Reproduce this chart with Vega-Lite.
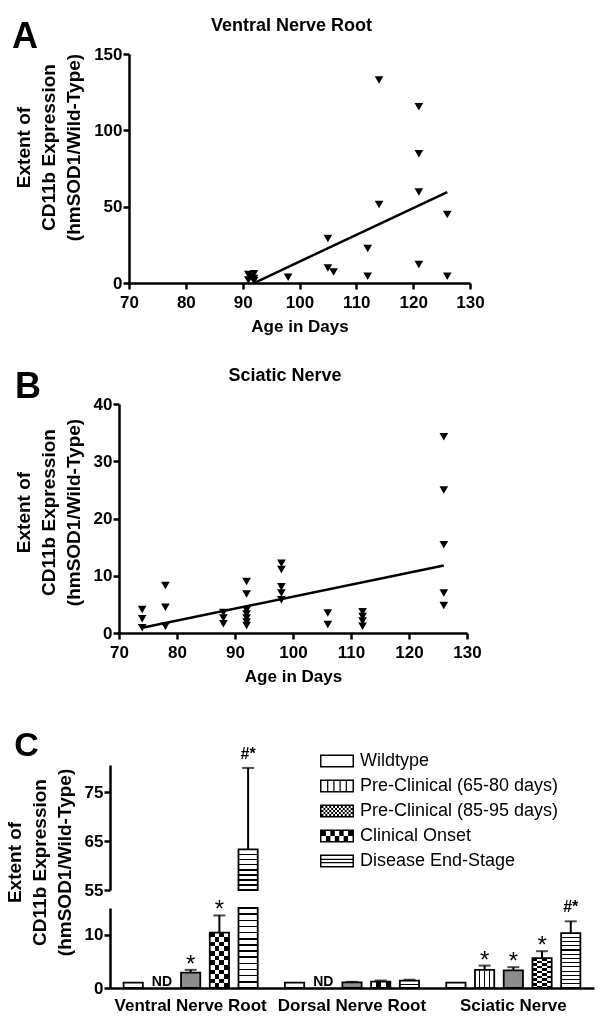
{
  "$schema": "https://vega.github.io/schema/vega-lite/v6.json",
  "background": "white",
  "padding": {"left": 0, "top": 17, "right": 2, "bottom": 2},
  "config": {
    "font": "Liberation Sans",
    "view": {"stroke": null},
    "axis": {"domainColor": "black", "domainWidth": 2.5, "tickColor": "black", "tickWidth": 2.5, "tickSize": 6, "labelFont": "Liberation Sans", "labelFontSize": 17, "labelFontWeight": "bold", "labelColor": "black", "titleFont": "Liberation Sans", "titleFontWeight": "bold", "titleColor": "black", "grid": false, "labelFlush": false},
    "axisX": {"titleFontSize": 17},
    "axisY": {"titleFontSize": 19, "titleLineHeight": 25},
    "title": {"font": "Liberation Sans", "fontWeight": "bold", "color": "black"}
  },
  "datasets": {
    "vnr": [
      {"age": 91, "value": 5.5}, {"age": 91, "value": 2.0}, {"age": 91.5, "value": 4.0}, {"age": 92, "value": 6.0}, {"age": 92, "value": 3.0}, {"age": 92, "value": 1.5},
      {"age": 98, "value": 3.7}, {"age": 105, "value": 29.2}, {"age": 105, "value": 9.9}, {"age": 106, "value": 7.2},
      {"age": 112, "value": 22.6}, {"age": 112, "value": 4.4}, {"age": 114, "value": 132.9}, {"age": 114, "value": 51.5},
      {"age": 121, "value": 115.4}, {"age": 121, "value": 84.7}, {"age": 121, "value": 59.6}, {"age": 121, "value": 12.1},
      {"age": 126, "value": 44.9}, {"age": 126, "value": 4.4}
    ],
    "vnr_fit": [{"age": 92, "value": 0}, {"age": 126, "value": 59.6}],
    "sn": [
      {"age": 74, "value": 4.1}, {"age": 74, "value": 2.5}, {"age": 74, "value": 0.9},
      {"age": 78, "value": 8.3}, {"age": 78, "value": 4.5}, {"age": 78, "value": 1.2},
      {"age": 88, "value": 3.6}, {"age": 88, "value": 2.6}, {"age": 88, "value": 1.6},
      {"age": 92, "value": 9.0}, {"age": 92, "value": 6.8}, {"age": 92, "value": 4.0}, {"age": 92, "value": 3.3}, {"age": 92, "value": 2.6}, {"age": 92, "value": 1.9}, {"age": 92, "value": 1.3},
      {"age": 98, "value": 12.2}, {"age": 98, "value": 11.1}, {"age": 98, "value": 8.1}, {"age": 98, "value": 7.0}, {"age": 98, "value": 5.8},
      {"age": 106, "value": 3.5}, {"age": 106, "value": 1.5},
      {"age": 112, "value": 3.7}, {"age": 112, "value": 2.9}, {"age": 112, "value": 2.1}, {"age": 112, "value": 1.2},
      {"age": 126, "value": 34.3}, {"age": 126, "value": 25.0}, {"age": 126, "value": 15.4}, {"age": 126, "value": 7.0}, {"age": 126, "value": 4.8}
    ],
    "sn_fit": [{"age": 74, "value": 0.9}, {"age": 126, "value": 11.8}],
    "bars": [
      {"region": "Ventral Nerve Root", "stage": "Wildtype", "value": 1.0, "upper": null, "sig": ""},
      {"region": "Ventral Nerve Root", "stage": "Pre-Clinical (65-80 days)", "value": null, "upper": null, "sig": "ND"},
      {"region": "Ventral Nerve Root", "stage": "Pre-Clinical (85-95 days)", "value": 2.9, "upper": 3.4, "sig": "*"},
      {"region": "Ventral Nerve Root", "stage": "Clinical Onset", "value": 10.4, "upper": 13.6, "sig": "*"},
      {"region": "Ventral Nerve Root", "stage": "Disease End-Stage", "value": 63.3, "upper": 80.0, "sig": "#*"},
      {"region": "Dorsal Nerve Root", "stage": "Wildtype", "value": 1.0, "upper": null, "sig": ""},
      {"region": "Dorsal Nerve Root", "stage": "Pre-Clinical (65-80 days)", "value": null, "upper": null, "sig": "ND"},
      {"region": "Dorsal Nerve Root", "stage": "Pre-Clinical (85-95 days)", "value": 1.05, "upper": 1.15, "sig": ""},
      {"region": "Dorsal Nerve Root", "stage": "Clinical Onset", "value": 1.2, "upper": 1.4, "sig": ""},
      {"region": "Dorsal Nerve Root", "stage": "Disease End-Stage", "value": 1.4, "upper": 1.55, "sig": ""},
      {"region": "Sciatic Nerve", "stage": "Wildtype", "value": 1.0, "upper": null, "sig": ""},
      {"region": "Sciatic Nerve", "stage": "Pre-Clinical (65-80 days)", "value": 3.4, "upper": 4.2, "sig": "*"},
      {"region": "Sciatic Nerve", "stage": "Pre-Clinical (85-95 days)", "value": 3.3, "upper": 3.9, "sig": "*"},
      {"region": "Sciatic Nerve", "stage": "Clinical Onset", "value": 5.6, "upper": 6.9, "sig": "*"},
      {"region": "Sciatic Nerve", "stage": "Disease End-Stage", "value": 10.3, "upper": 12.5, "sig": "#*"}
    ]
  },
  "vconcat": [
    {
      "spacing": 33,
      "vconcat": [
        {
          "title": {"text": "A", "anchor": "start", "frame": "bounds", "fontSize": 36, "offset": -67, "baseline": "alphabetic", "dx": 10},
          "spacing": 0,
          "hconcat": [
            {"width": 12, "height": 10, "data": {"values": [{"a": 1}]}, "mark": {"type": "point", "opacity": 0}, "encoding": {}},
            {
              "width": 341, "height": 229,
              "title": {"text": "Ventral Nerve Root", "fontSize": 18, "anchor": "middle", "frame": "group", "dx": -8, "offset": -4, "baseline": "alphabetic"},
              "layer": [
                {
                  "data": {"name": "vnr"},
                  "mark": {"type": "point", "shape": "triangle-down", "filled": true, "color": "black", "size": 75, "opacity": 1},
                  "encoding": {
                    "x": {"field": "age", "type": "quantitative", "scale": {"domain": [70, 130], "nice": false, "zero": false}, "axis": {"values": [70, 80, 90, 100, 110, 120, 130], "title": "Age in Days", "labelPadding": 5, "titlePadding": 8}},
                    "y": {"field": "value", "type": "quantitative", "scale": {"domain": [0, 150], "nice": false}, "axis": {"values": [0, 50, 100, 150], "title": ["Extent of", "CD11b Expression", "(hmSOD1/Wild-Type)"], "labelPadding": 1, "titlePadding": 10, "titleY": 93}}
                  }
                },
                {
                  "data": {"name": "vnr_fit"},
                  "mark": {"type": "line", "color": "black", "strokeWidth": 2.5},
                  "encoding": {"x": {"field": "age", "type": "quantitative"}, "y": {"field": "value", "type": "quantitative"}}
                }
              ]
            }
          ]
        },
        {
          "title": {"text": "B", "anchor": "start", "frame": "bounds", "fontSize": 36, "offset": -67, "baseline": "alphabetic", "dx": 13},
          "spacing": 0,
          "hconcat": [
            {"width": 12, "height": 10, "data": {"values": [{"a": 1}]}, "mark": {"type": "point", "opacity": 0}, "encoding": {}},
            {
              "width": 348, "height": 229,
              "title": {"text": "Sciatic Nerve", "fontSize": 18, "anchor": "middle", "frame": "group", "dx": -8, "offset": -4, "baseline": "alphabetic"},
              "layer": [
                {
                  "data": {"name": "sn"},
                  "mark": {"type": "point", "shape": "triangle-down", "filled": true, "color": "black", "size": 75, "opacity": 1},
                  "encoding": {
                    "x": {"field": "age", "type": "quantitative", "scale": {"domain": [70, 130], "nice": false, "zero": false}, "axis": {"values": [70, 80, 90, 100, 110, 120, 130], "title": "Age in Days", "labelPadding": 5, "titlePadding": 8}},
                    "y": {"field": "value", "type": "quantitative", "scale": {"domain": [0, 40], "nice": false}, "axis": {"values": [0, 10, 20, 30, 40], "title": ["Extent of", "CD11b Expression", "(hmSOD1/Wild-Type)"], "labelPadding": 1, "titlePadding": 10, "titleY": 108}}
                  }
                },
                {
                  "data": {"name": "sn_fit"},
                  "mark": {"type": "line", "color": "black", "strokeWidth": 2.5},
                  "encoding": {"x": {"field": "age", "type": "quantitative"}, "y": {"field": "value", "type": "quantitative"}}
                }
              ]
            }
          ]
        }
      ]
    },
    {
      "title": {"text": "C", "anchor": "start", "frame": "bounds", "fontSize": 34, "offset": -44, "baseline": "alphabetic", "dx": 14},
      "spacing": 0,
      "hconcat": [
        {"width": 2, "height": 10, "data": {"values": [{"a": 1}]}, "mark": {"type": "point", "opacity": 0}, "encoding": {}},
        {
          "title": {"text": ["Extent of", "CD11b Expression", "(hmSOD1/Wild-Type)"], "orient": "left", "anchor": "middle", "frame": "bounds", "fontSize": 19, "lineHeight": 25, "offset": 9, "dx": 17},
          "resolve": {"scale": {"xOffset": "independent", "shape": "independent", "fill": "independent"}, "legend": {"shape": "independent"}},
          "spacing": 0,
          "vconcat": [
            {
              "width": 484, "height": 125,
              "data": {"name": "bars"},
              "encoding": {
                "x": {"field": "region", "type": "nominal", "scale": {"domain": ["Ventral Nerve Root", "Dorsal Nerve Root", "Sciatic Nerve"], "paddingInner": 0.11, "paddingOuter": 0.055}, "axis": null},
                "xOffset": {"field": "stage", "type": "nominal", "scale": {"domain": ["Wildtype", "Pre-Clinical (65-80 days)", "Pre-Clinical (85-95 days)", "Clinical Onset", "Disease End-Stage"], "paddingInner": 0.33, "paddingOuter": 0.165}}
              },
              "layer": [
                {
                  "transform": [{"filter": "datum.value > 55"}],
                  "mark": {"type": "bar", "fill": "white"},
                  "encoding": {"y": {"field": "value", "type": "quantitative", "scale": {"domain": [55, 80.6], "clamp": true, "nice": false, "zero": false}, "axis": {"values": [55, 65, 75], "title": null, "labelPadding": 1, "labelOverlap": false}}}
                },
                {
                  "transform": [{"filter": "datum.value > 55"}],
                  "mark": {"type": "bar", "fill": {"gradient": "linear", "x1": 0, "y1": 0, "x2": 0, "y2": 1, "stops": [
                    {"offset": 0, "color": "rgba(0,0,0,0)"},
                    {"offset": 0.105, "color": "rgba(0,0,0,0)"}, {"offset": 0.105, "color": "black"}, {"offset": 0.145, "color": "black"}, {"offset": 0.145, "color": "rgba(0,0,0,0)"},
                    {"offset": 0.23, "color": "rgba(0,0,0,0)"}, {"offset": 0.23, "color": "black"}, {"offset": 0.27, "color": "black"}, {"offset": 0.27, "color": "rgba(0,0,0,0)"},
                    {"offset": 0.355, "color": "rgba(0,0,0,0)"}, {"offset": 0.355, "color": "black"}, {"offset": 0.395, "color": "black"}, {"offset": 0.395, "color": "rgba(0,0,0,0)"},
                    {"offset": 0.48, "color": "rgba(0,0,0,0)"}, {"offset": 0.48, "color": "black"}, {"offset": 0.52, "color": "black"}, {"offset": 0.52, "color": "rgba(0,0,0,0)"},
                    {"offset": 0.605, "color": "rgba(0,0,0,0)"}, {"offset": 0.605, "color": "black"}, {"offset": 0.645, "color": "black"}, {"offset": 0.645, "color": "rgba(0,0,0,0)"},
                    {"offset": 0.73, "color": "rgba(0,0,0,0)"}, {"offset": 0.73, "color": "black"}, {"offset": 0.77, "color": "black"}, {"offset": 0.77, "color": "rgba(0,0,0,0)"},
                    {"offset": 0.855, "color": "rgba(0,0,0,0)"}, {"offset": 0.855, "color": "black"}, {"offset": 0.895, "color": "black"}, {"offset": 0.895, "color": "rgba(0,0,0,0)"},
                    {"offset": 1, "color": "rgba(0,0,0,0)"}
                  ]}},
                  "encoding": {"y": {"field": "value", "type": "quantitative"}}
                },
                {
                  "transform": [{"filter": "datum.value > 55"}],
                  "mark": {"type": "bar", "fillOpacity": 0, "stroke": "black", "strokeWidth": 1.8},
                  "encoding": {"y": {"field": "value", "type": "quantitative"}}
                },
                {
                  "transform": [{"filter": "datum.value > 55"}],
                  "mark": {"type": "rule", "color": "black", "strokeWidth": 2},
                  "encoding": {"y": {"field": "value", "type": "quantitative"}, "y2": {"field": "upper"}}
                },
                {
                  "transform": [{"filter": "datum.value > 55"}],
                  "mark": {"type": "tick", "color": "black", "thickness": 2, "size": 12},
                  "encoding": {"y": {"field": "upper", "type": "quantitative"}}
                },
                {
                  "transform": [{"filter": "datum.value > 55"}],
                  "mark": {"type": "text", "fontSize": 16, "fontWeight": "bold", "baseline": "alphabetic", "dy": -9, "color": "black"},
                  "encoding": {"y": {"field": "upper", "type": "quantitative"}, "text": {"field": "sig"}}
                },
                {
                  "mark": {"type": "point", "filled": true, "color": "black", "opacity": 0, "size": 4},
                  "encoding": {
                    "y": {"field": "value", "type": "quantitative"},
                    "shape": {"field": "stage", "type": "nominal",
                      "scale": {"domain": ["Wildtype", "Pre-Clinical (65-80 days)", "Pre-Clinical (85-95 days)", "Clinical Onset", "Disease End-Stage"],
                        "range": [
                          "M-17,-6.5H17V6.5H-17ZM-15.5,-5V5H15.5V-5Z",
                          "M-17,-6.5H17V6.5H-17ZM-15.5,-5V5H15.5V-5ZM-9.9,-5H-8.7V5H-9.9ZM-3.7,-5H-2.5V5H-3.7ZM2.5,-5H3.7V5H2.5ZM8.7,-5H9.9V5H8.7Z",
                          "M-17,-6.5H17V6.5H-17ZM-15.5,-5V5H15.5V-5ZM-15.5,-5h1.94v2h-1.94ZM-11.63,-5h1.94v2h-1.94ZM-7.75,-5h1.94v2h-1.94ZM-3.88,-5h1.94v2h-1.94ZM0,-5h1.94v2h-1.94ZM3.88,-5h1.94v2h-1.94ZM7.75,-5h1.94v2h-1.94ZM11.63,-5h1.94v2h-1.94ZM-13.56,-3h1.94v2h-1.94ZM-9.69,-3h1.94v2h-1.94ZM-5.81,-3h1.94v2h-1.94ZM-1.94,-3h1.94v2h-1.94ZM1.94,-3h1.94v2h-1.94ZM5.81,-3h1.94v2h-1.94ZM9.69,-3h1.94v2h-1.94ZM13.56,-3h1.94v2h-1.94ZM-15.5,-1h1.94v2h-1.94ZM-11.63,-1h1.94v2h-1.94ZM-7.75,-1h1.94v2h-1.94ZM-3.88,-1h1.94v2h-1.94ZM0,-1h1.94v2h-1.94ZM3.88,-1h1.94v2h-1.94ZM7.75,-1h1.94v2h-1.94ZM11.63,-1h1.94v2h-1.94ZM-13.56,1h1.94v2h-1.94ZM-9.69,1h1.94v2h-1.94ZM-5.81,1h1.94v2h-1.94ZM-1.94,1h1.94v2h-1.94ZM1.94,1h1.94v2h-1.94ZM5.81,1h1.94v2h-1.94ZM9.69,1h1.94v2h-1.94ZM13.56,1h1.94v2h-1.94ZM-15.5,3h1.94v2h-1.94ZM-11.63,3h1.94v2h-1.94ZM-7.75,3h1.94v2h-1.94ZM-3.88,3h1.94v2h-1.94ZM0,3h1.94v2h-1.94ZM3.88,3h1.94v2h-1.94ZM7.75,3h1.94v2h-1.94ZM11.63,3h1.94v2h-1.94Z",
                          "M-17,-6.5H17V6.5H-17ZM-15.5,-5V5H15.5V-5ZM-15.5,-5h4.43v5h-4.43ZM-6.64,-5h4.43v5h-4.43ZM2.21,-5h4.43v5h-4.43ZM11.07,-5h4.43v5h-4.43ZM-11.07,0h4.43v5h-4.43ZM-2.21,0h4.43v5h-4.43ZM6.64,0h4.43v5h-4.43Z",
                          "M-17,-6.5H17V6.5H-17ZM-15.5,-5V5H15.5V-5ZM-15.5,-2.22H15.5V-1.12H-15.5ZM-15.5,1.12H15.5V2.22H-15.5Z"
                        ]},
                      "legend": {"orient": "none", "legendX": 218, "legendY": -13, "title": null, "symbolSize": 4, "symbolFillColor": "black", "symbolStrokeWidth": 0, "symbolStrokeColor": "black", "labelFontSize": 18, "labelFontWeight": "normal", "labelFont": "Liberation Sans", "labelColor": "black", "labelOffset": 14, "rowPadding": 7, "labelLimit": 400, "padding": 0}
                    }
                  }
                }
              ]
            },
            {
              "width": 484, "height": 80,
              "data": {"name": "bars"},
              "encoding": {
                "x": {"field": "region", "type": "nominal", "scale": {"domain": ["Ventral Nerve Root", "Dorsal Nerve Root", "Sciatic Nerve"], "paddingInner": 0.11, "paddingOuter": 0.055}, "axis": {"title": null, "ticks": false, "labelAngle": 0, "labelPadding": 9, "labelFontSize": 17, "labelLimit": 0}},
                "xOffset": {"field": "stage", "type": "nominal", "scale": {"domain": ["Wildtype", "Pre-Clinical (65-80 days)", "Pre-Clinical (85-95 days)", "Clinical Onset", "Disease End-Stage"], "paddingInner": 0.33, "paddingOuter": 0.165}}
              },
              "layer": [
                {
                  "mark": {"type": "bar"},
                  "encoding": {
                    "y": {"field": "value", "type": "quantitative", "scale": {"domain": [0, 15], "clamp": true, "nice": false}, "axis": {"values": [0, 10], "title": null, "labelPadding": 1, "labelOverlap": false}},
                    "fill": {"field": "stage", "type": "nominal", "scale": {"domain": ["Wildtype", "Pre-Clinical (65-80 days)", "Pre-Clinical (85-95 days)", "Clinical Onset", "Disease End-Stage"], "range": ["white", "white", "#8c8c8c", "white", "white"]}, "legend": null}
                  }
                },
                {
                  "transform": [{"filter": "datum.stage === 'Pre-Clinical (65-80 days)'"}],
                  "mark": {"type": "bar", "fill": {"gradient": "linear", "x1": 0, "y1": 0, "x2": 1, "y2": 0, "stops": [
                    {"offset": 0, "color": "rgba(0,0,0,0)"},
                    {"offset": 0.215, "color": "rgba(0,0,0,0)"}, {"offset": 0.215, "color": "black"}, {"offset": 0.285, "color": "black"}, {"offset": 0.285, "color": "rgba(0,0,0,0)"},
                    {"offset": 0.465, "color": "rgba(0,0,0,0)"}, {"offset": 0.465, "color": "black"}, {"offset": 0.535, "color": "black"}, {"offset": 0.535, "color": "rgba(0,0,0,0)"},
                    {"offset": 0.715, "color": "rgba(0,0,0,0)"}, {"offset": 0.715, "color": "black"}, {"offset": 0.785, "color": "black"}, {"offset": 0.785, "color": "rgba(0,0,0,0)"},
                    {"offset": 1, "color": "rgba(0,0,0,0)"}
                  ]}},
                  "encoding": {"y": {"field": "value", "type": "quantitative"}}
                },
                {
                  "transform": [{"filter": "datum.stage === 'Clinical Onset'"}],
                  "mark": {"type": "bar", "fill": {"gradient": "linear", "x1": 0, "y1": 0, "x2": 0, "y2": 1, "stops": [
                    {"offset": 0, "color": "rgba(0,0,0,0)"}, {"offset": 0.0833, "color": "rgba(0,0,0,0)"}, {"offset": 0.0833, "color": "black"}, {"offset": 0.1667, "color": "black"},
                    {"offset": 0.1667, "color": "rgba(0,0,0,0)"}, {"offset": 0.25, "color": "rgba(0,0,0,0)"}, {"offset": 0.25, "color": "black"}, {"offset": 0.3333, "color": "black"},
                    {"offset": 0.3333, "color": "rgba(0,0,0,0)"}, {"offset": 0.4167, "color": "rgba(0,0,0,0)"}, {"offset": 0.4167, "color": "black"}, {"offset": 0.5, "color": "black"},
                    {"offset": 0.5, "color": "rgba(0,0,0,0)"}, {"offset": 0.5833, "color": "rgba(0,0,0,0)"}, {"offset": 0.5833, "color": "black"}, {"offset": 0.6667, "color": "black"},
                    {"offset": 0.6667, "color": "rgba(0,0,0,0)"}, {"offset": 0.75, "color": "rgba(0,0,0,0)"}, {"offset": 0.75, "color": "black"}, {"offset": 0.8333, "color": "black"},
                    {"offset": 0.8333, "color": "rgba(0,0,0,0)"}, {"offset": 0.9167, "color": "rgba(0,0,0,0)"}, {"offset": 0.9167, "color": "black"}, {"offset": 1, "color": "black"}
                  ]}},
                  "encoding": {"y": {"field": "value", "type": "quantitative"}}
                },
                {
                  "transform": [{"filter": "datum.stage === 'Clinical Onset'"}],
                  "mark": {"type": "bar", "blend": "difference", "fill": {"gradient": "linear", "x1": 0, "y1": 0, "x2": 1, "y2": 0, "stops": [
                    {"offset": 0, "color": "white"}, {"offset": 0.25, "color": "white"}, {"offset": 0.25, "color": "rgba(0,0,0,0)"}, {"offset": 0.5, "color": "rgba(0,0,0,0)"},
                    {"offset": 0.5, "color": "white"}, {"offset": 0.75, "color": "white"}, {"offset": 0.75, "color": "rgba(0,0,0,0)"}, {"offset": 1, "color": "rgba(0,0,0,0)"}
                  ]}},
                  "encoding": {"y": {"field": "value", "type": "quantitative"}}
                },
                {
                  "transform": [{"filter": "datum.stage === 'Disease End-Stage'"}],
                  "mark": {"type": "bar", "fill": {"gradient": "linear", "x1": 0, "y1": 0, "x2": 0, "y2": 1, "stops": [
                    {"offset": 0, "color": "rgba(0,0,0,0)"},
                    {"offset": 0.0669, "color": "rgba(0,0,0,0)"}, {"offset": 0.0669, "color": "black"}, {"offset": 0.0869, "color": "black"}, {"offset": 0.0869, "color": "rgba(0,0,0,0)"},
                    {"offset": 0.1438, "color": "rgba(0,0,0,0)"}, {"offset": 0.1438, "color": "black"}, {"offset": 0.1638, "color": "black"}, {"offset": 0.1638, "color": "rgba(0,0,0,0)"},
                    {"offset": 0.2208, "color": "rgba(0,0,0,0)"}, {"offset": 0.2208, "color": "black"}, {"offset": 0.2408, "color": "black"}, {"offset": 0.2408, "color": "rgba(0,0,0,0)"},
                    {"offset": 0.2977, "color": "rgba(0,0,0,0)"}, {"offset": 0.2977, "color": "black"}, {"offset": 0.3177, "color": "black"}, {"offset": 0.3177, "color": "rgba(0,0,0,0)"},
                    {"offset": 0.3746, "color": "rgba(0,0,0,0)"}, {"offset": 0.3746, "color": "black"}, {"offset": 0.3946, "color": "black"}, {"offset": 0.3946, "color": "rgba(0,0,0,0)"},
                    {"offset": 0.4515, "color": "rgba(0,0,0,0)"}, {"offset": 0.4515, "color": "black"}, {"offset": 0.4715, "color": "black"}, {"offset": 0.4715, "color": "rgba(0,0,0,0)"},
                    {"offset": 0.5285, "color": "rgba(0,0,0,0)"}, {"offset": 0.5285, "color": "black"}, {"offset": 0.5485, "color": "black"}, {"offset": 0.5485, "color": "rgba(0,0,0,0)"},
                    {"offset": 0.6054, "color": "rgba(0,0,0,0)"}, {"offset": 0.6054, "color": "black"}, {"offset": 0.6254, "color": "black"}, {"offset": 0.6254, "color": "rgba(0,0,0,0)"},
                    {"offset": 0.6823, "color": "rgba(0,0,0,0)"}, {"offset": 0.6823, "color": "black"}, {"offset": 0.7023, "color": "black"}, {"offset": 0.7023, "color": "rgba(0,0,0,0)"},
                    {"offset": 0.7592, "color": "rgba(0,0,0,0)"}, {"offset": 0.7592, "color": "black"}, {"offset": 0.7792, "color": "black"}, {"offset": 0.7792, "color": "rgba(0,0,0,0)"},
                    {"offset": 0.8362, "color": "rgba(0,0,0,0)"}, {"offset": 0.8362, "color": "black"}, {"offset": 0.8562, "color": "black"}, {"offset": 0.8562, "color": "rgba(0,0,0,0)"},
                    {"offset": 0.9131, "color": "rgba(0,0,0,0)"}, {"offset": 0.9131, "color": "black"}, {"offset": 0.9331, "color": "black"}, {"offset": 0.9331, "color": "rgba(0,0,0,0)"},
                    {"offset": 1, "color": "rgba(0,0,0,0)"}
                  ]}},
                  "encoding": {"y": {"field": "value", "type": "quantitative"}}
                },
                {
                  "mark": {"type": "bar", "fillOpacity": 0, "stroke": "black", "strokeWidth": 1.8},
                  "encoding": {"y": {"field": "value", "type": "quantitative"}}
                },
                {
                  "transform": [{"filter": "isValid(datum.upper) && datum.upper <= 15"}],
                  "mark": {"type": "rule", "color": "black", "strokeWidth": 2},
                  "encoding": {"y": {"field": "value", "type": "quantitative"}, "y2": {"field": "upper"}}
                },
                {
                  "transform": [{"filter": "isValid(datum.upper) && datum.upper <= 15"}],
                  "mark": {"type": "tick", "color": "black", "thickness": 2, "size": 12},
                  "encoding": {"y": {"field": "upper", "type": "quantitative"}}
                },
                {
                  "transform": [{"filter": "datum.sig === '*'"}],
                  "mark": {"type": "text", "fontSize": 24, "baseline": "alphabetic", "dy": 2, "color": "black"},
                  "encoding": {"y": {"field": "upper", "type": "quantitative"}, "text": {"field": "sig"}}
                },
                {
                  "transform": [{"filter": "datum.sig === '#*' && datum.upper <= 15"}],
                  "mark": {"type": "text", "fontSize": 16, "fontWeight": "bold", "baseline": "alphabetic", "dy": -9, "color": "black"},
                  "encoding": {"y": {"field": "upper", "type": "quantitative"}, "text": {"field": "sig"}}
                },
                {
                  "transform": [{"filter": "datum.sig === 'ND'"}],
                  "mark": {"type": "text", "fontSize": 14, "fontWeight": "bold", "baseline": "alphabetic", "dy": -2, "color": "black"},
                  "encoding": {"y": {"datum": 0, "type": "quantitative"}, "text": {"field": "sig"}}
                }
              ]
            }
          ]
        }
      ]
    }
  ],
  "spacing": 44
}
